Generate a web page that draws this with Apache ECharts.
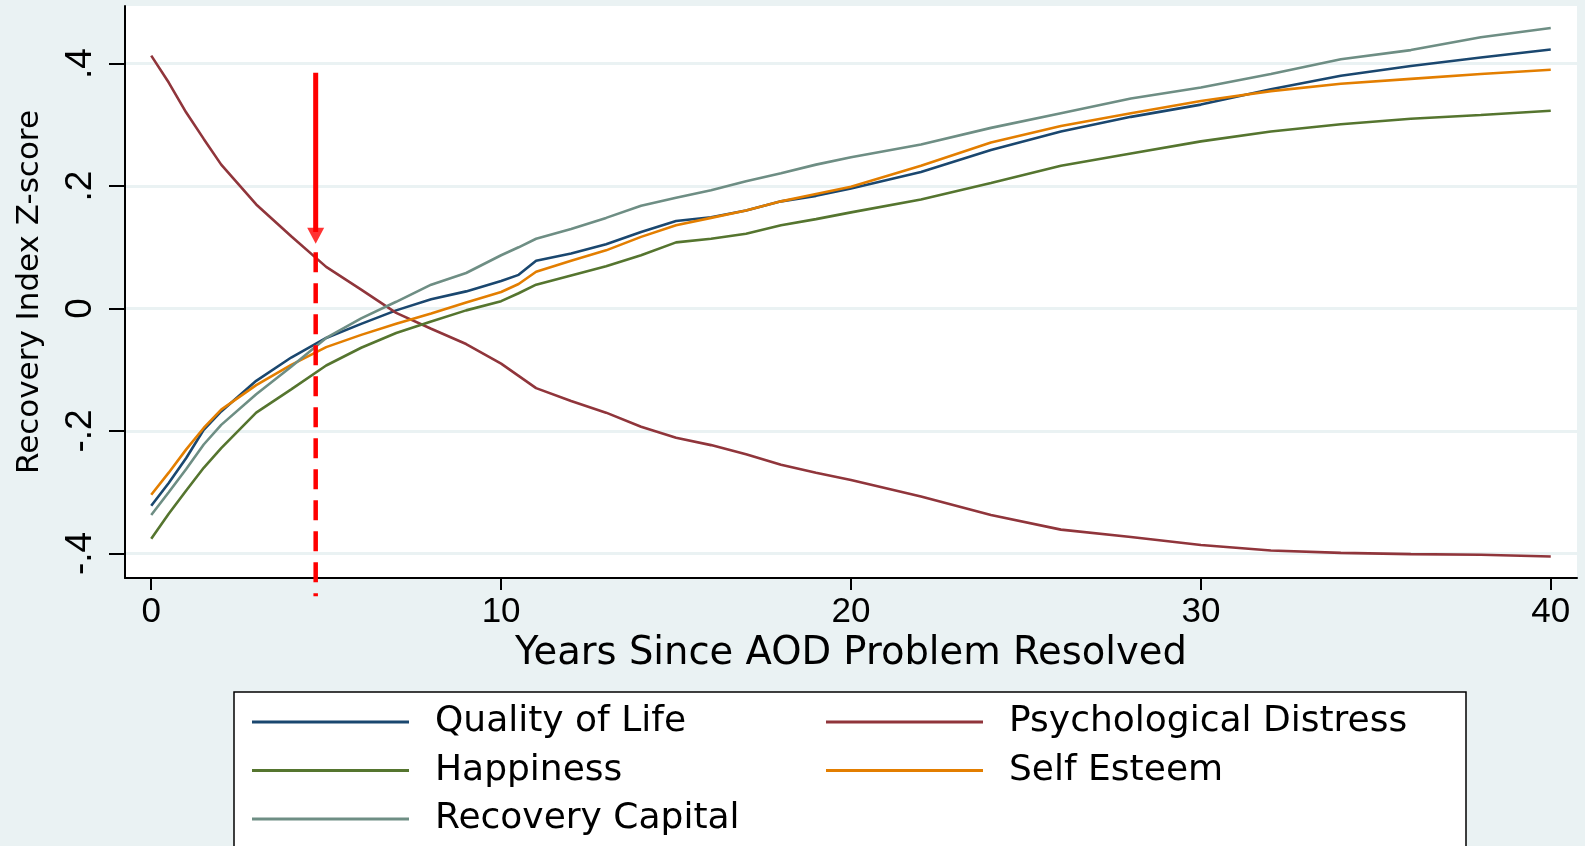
<!DOCTYPE html>
<html>
<head>
<meta charset="utf-8">
<script src="https://cdn.jsdelivr.net/npm/echarts@6/dist/echarts.min.js"></script>
<style>
html,body{margin:0;padding:0;background:#eaf2f3;}
#chart{width:1585px;height:846px;}
</style>
</head>
<body>
<div id="chart"></div>
<script>
// ---- data ----
const years = [0, 0.5, 1, 1.5, 2, 3, 4, 5, 6, 7, 8, 9, 10, 10.5, 11, 12, 13, 14, 15, 16, 17, 18, 19, 20, 22, 24, 26, 28, 30, 32, 34, 36, 38, 40];
const qualityOfLife = [-0.322, -0.285, -0.244, -0.198, -0.168, -0.118, -0.080, -0.048, -0.025, -0.003, 0.015, 0.028, 0.045, 0.055, 0.078, 0.090, 0.105, 0.125, 0.143, 0.149, 0.160, 0.175, 0.184, 0.196, 0.223, 0.259, 0.289, 0.313, 0.333, 0.358, 0.380, 0.396, 0.410, 0.423];
const psychDistress = [0.413, 0.369, 0.320, 0.277, 0.235, 0.170, 0.118, 0.068, 0.031, -0.007, -0.033, -0.058, -0.090, -0.110, -0.130, -0.151, -0.170, -0.193, -0.211, -0.223, -0.238, -0.255, -0.268, -0.280, -0.307, -0.337, -0.361, -0.373, -0.386, -0.395, -0.399, -0.401, -0.402, -0.405];
const happiness = [-0.376, -0.335, -0.297, -0.260, -0.228, -0.170, -0.132, -0.093, -0.064, -0.040, -0.021, -0.003, 0.012, 0.025, 0.039, 0.054, 0.069, 0.087, 0.108, 0.114, 0.122, 0.136, 0.146, 0.157, 0.178, 0.205, 0.233, 0.253, 0.273, 0.289, 0.301, 0.310, 0.316, 0.323];
const selfEsteem = [-0.304, -0.268, -0.230, -0.195, -0.165, -0.125, -0.092, -0.063, -0.043, -0.025, -0.008, 0.010, 0.027, 0.040, 0.060, 0.078, 0.095, 0.117, 0.136, 0.148, 0.160, 0.175, 0.187, 0.199, 0.233, 0.271, 0.298, 0.319, 0.339, 0.355, 0.367, 0.375, 0.383, 0.390];
const recoveryCapital = [-0.337, -0.300, -0.262, -0.222, -0.190, -0.140, -0.095, -0.048, -0.016, 0.011, 0.039, 0.058, 0.087, 0.100, 0.114, 0.130, 0.148, 0.168, 0.181, 0.193, 0.208, 0.221, 0.235, 0.247, 0.268, 0.295, 0.319, 0.343, 0.361, 0.383, 0.407, 0.422, 0.443, 0.458];

const seriesNames = ['Quality of Life', 'Psychological Distress', 'Happiness', 'Self Esteem', 'Recovery Capital'];
const seriesColors = ['#1a476f', '#90353b', '#55752f', '#e37e00', '#6e8e84'];

const xTickValues = [0, 10, 20, 30, 40];
const yTickValues = [-0.4, -0.2, 0, 0.2, 0.4];
const yTickLabels = ['-.4', '-.2', '0', '.2', '.4'];

// annotation (years, z-score)
const markerYear = 4.7;
const arrowShaft = [0.385, 0.125];
const arrowHead = 0.119;
const dashSpan = [0.092, -0.470];

// ---- chart ----
const allValues = [qualityOfLife, psychDistress, happiness, selfEsteem, recoveryCapital];
const zip = v => years.map((x, i) => [x, v[i]]);

const chart = echarts.init(document.getElementById('chart'), null, {renderer: 'canvas'});

const lineSeries = seriesNames.map((name, i) => ({
  name: name,
  type: 'line',
  data: zip(allValues[i]),
  symbol: 'none',
  smooth: false,
  z: 3 + i,
  lineStyle: {color: seriesColors[i], width: 2.6},
  itemStyle: {color: seriesColors[i]},
  emphasis: {disabled: true}
}));

const redSeries = [
  {
    name: 'arrowShaft', type: 'line', symbol: 'none', clip: false, z: 10,
    data: [[markerYear, arrowShaft[0]], [markerYear, arrowShaft[1]]],
    lineStyle: {color: '#ff0000', width: 5}, emphasis: {disabled: true}
  },
  {
    name: 'arrowHead', type: 'scatter', clip: false, z: 10,
    data: [[markerYear, arrowHead]],
    symbol: 'triangle', symbolRotate: 180, symbolSize: [17, 16],
    itemStyle: {color: '#ff0000'}, emphasis: {disabled: true}
  },
  {
    name: 'dashLine', type: 'line', symbol: 'none', clip: false, z: 10,
    data: [[markerYear, dashSpan[0]], [markerYear, dashSpan[1]]],
    lineStyle: {color: '#ff0000', width: 4.5, type: [20, 11]}, emphasis: {disabled: true}
  }
];

const legendText = {
  fontFamily: 'DejaVu Sans', fontSize: 36, color: '#000', lineHeight: 36,
  rich: {s: {width: 21}}
};

const legendCommon = {
  orient: 'vertical', top: 704, padding: 0,
  icon: 'rect', itemWidth: 157, itemHeight: 3, itemGap: 12.5,
  formatter: n => '{s|}' + n, textStyle: legendText,
  selectedMode: false
};

const option = {
  backgroundColor: '#eaf2f3',
  animation: false,
  grid: {left: 125, right: 8, top: 6, bottom: 268, show: true, backgroundColor: '#ffffff', borderWidth: 0},
  xAxis: {
    type: 'value', min: -0.75, max: 40.75,
    name: 'Years Since AOD Problem Resolved', nameLocation: 'middle', nameGap: 48,
    nameTextStyle: {fontFamily: 'DejaVu Sans', fontSize: 38.5, color: '#000'},
    axisLine: {show: true, onZero: false, lineStyle: {color: '#000', width: 2}},
    axisTick: {show: true, length: 12, customValues: xTickValues, lineStyle: {color: '#000', width: 2}},
    axisLabel: {customValues: xTickValues, fontFamily: 'Liberation Sans', fontSize: 35, color: '#000', margin: 17},
    splitLine: {show: false}
  },
  yAxis: {
    type: 'value', min: -0.440, max: 0.494,
    name: 'Recovery Index Z-score', nameLocation: 'middle', nameGap: 80, nameRotate: 90,
    nameTextStyle: {fontFamily: 'DejaVu Sans', fontSize: 31, color: '#000'},
    axisLine: {show: true, onZero: false, lineStyle: {color: '#000', width: 2}},
    axisTick: {show: true, length: 16, customValues: yTickValues, lineStyle: {color: '#000', width: 2}},
    axisLabel: {
      customValues: yTickValues, rotate: 90, fontFamily: 'Liberation Sans', fontSize: 37, color: '#000', margin: 26,
      formatter: v => { const i = yTickValues.findIndex(t => Math.abs(t - v) < 1e-9); return i >= 0 ? yTickLabels[i] : ''; }
    },
    splitLine: {show: true, lineStyle: {color: '#eaf2f3', width: 3}}
  },
  legend: [
    Object.assign({data: [seriesNames[0], seriesNames[2], seriesNames[4]], left: 252}, legendCommon),
    Object.assign({data: [seriesNames[1], seriesNames[3]], left: 826}, legendCommon)
  ],
  graphic: [
    {type: 'rect', z: -1, silent: true, shape: {x: 234, y: 692, width: 1232, height: 220},
     style: {fill: '#ffffff', stroke: '#000000', lineWidth: 1.5}}
  ],
  series: lineSeries.concat(redSeries)
};
chart.setOption(option);
</script>
</body>
</html>
